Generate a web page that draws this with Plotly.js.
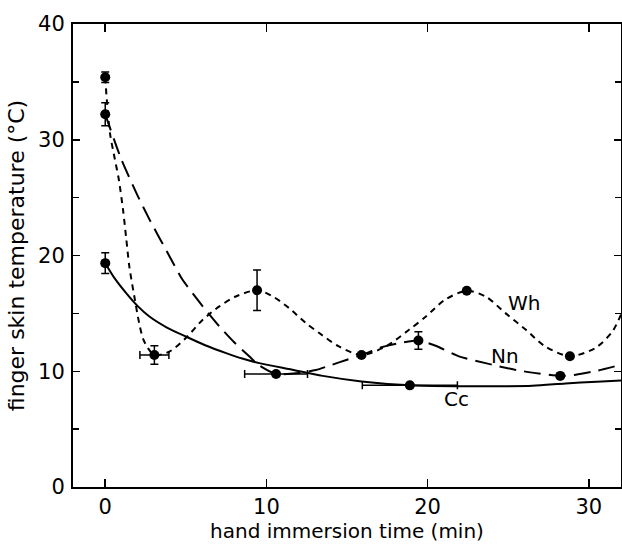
<!DOCTYPE html>
<html>
<head>
<meta charset="utf-8">
<script src="https://cdn.plot.ly/plotly-3.0.1.min.js"></script>
<style>html,body{margin:0;padding:0;background:#fff;}</style>
</head>
<body>
<div id="chart" style="width:622px;height:544px;"></div>
<script>
// ---- measured data points (mean values with error bars) ----
const whX = [0, 3.05, 9.42, 15.9, 22.43, 28.83];
const whY = [35.4, 11.4, 17.0, 11.4, 16.95, 11.3];
const whYerr = [0.45, 0.8, 1.75, 0, 0, 0];
const whXerr = [0, 0.9, 0, 0, 0, 0];

const nnX = [0, 10.6, 19.43, 28.23];
const nnY = [32.2, 9.76, 12.66, 9.6];
const nnYerr = [1.0, 0, 0.76, 0];
const nnXerr = [0, 1.95, 0, 0];

const ccX = [0, 18.9];
const ccY = [19.34, 8.78];
const ccYerr = [0.9, 0];
const ccXerr = [0, 2.95];

// ---- drawn curves ----
const whCurveX = [0, 0.1, 0.3, 0.6, 0.85, 1.1, 1.3, 1.5, 1.8, 2.1, 2.35, 2.65, 3.05, 3.98, 5.0, 6.05, 7.08, 8.1, 9.42, 10.4, 11.4, 12.45, 13.28, 14.5, 15.9, 17.4, 18.85, 19.9, 21.1, 22.43, 23.6, 24.85, 26.1, 27.3, 28.83, 30.4, 31.45, 32];
const whCurveY = [35.4, 33.4, 30.5, 28.3, 26.5, 24.0, 21.5, 19.0, 16.5, 14.2, 12.8, 12.0, 11.4, 11.7, 12.87, 14.45, 15.6, 16.46, 17.0, 16.46, 15.46, 14.16, 13.3, 12.14, 11.4, 12.14, 13.58, 14.73, 16.2, 16.95, 16.46, 15.0, 13.58, 12.14, 11.3, 12.0, 13.4, 14.9];

const nnCurveX = [0, 1.0, 2.0, 2.75, 4.0, 4.8, 6.0, 7.08, 8.0, 9.0, 9.56, 10.6, 12.0, 13.07, 14.1, 15.0, 16.2, 17.2, 18.3, 19.43, 20.5, 21.95, 23.6, 25.5, 26.9, 28.23, 29.2, 30.6, 32];
const nnCurveY = [32.2, 28.3, 25.2, 23.1, 19.9, 17.9, 15.7, 13.87, 12.5, 11.2, 10.5, 9.76, 9.85, 10.1, 10.57, 11.0, 11.57, 12.1, 12.45, 12.66, 12.2, 11.28, 10.7, 10.1, 9.8, 9.6, 9.7, 10.07, 10.56];

const ccCurveX = [0, 0.6, 1.3, 2.0, 2.74, 3.8, 5.0, 6.2, 7.5, 8.5, 9.56, 11.6, 13.5, 15.9, 18.9, 21.85, 24.0, 26.5, 28.56, 30.5, 32];
const ccCurveY = [19.34, 18.0, 16.75, 15.65, 14.73, 13.8, 13.0, 12.25, 11.57, 11.1, 10.7, 10.13, 9.6, 9.12, 8.78, 8.7, 8.7, 8.75, 8.95, 9.1, 9.2];

// ---- series labels ----
const labelText = ['Wh', 'Nn', 'Cc'];
const labelX = [25.96, 24.8, 21.8];
const labelY = [15.9, 11.3, 7.6];

const xTicks = [0, 10, 20, 30];
const yTicks = [0, 10, 20, 30, 40];

const FONT = 'DejaVu Sans, Arial, sans-serif';
const black = '#000';

function curve(x, y, dash, w, sm) {
  return {x: x, y: y, type: 'scatter', mode: 'lines', hoverinfo: 'skip',
    line: {color: black, width: w, dash: dash, shape: 'spline', smoothing: sm},
    showlegend: false, cliponaxis: true};
}
function pts(x, y, ex, ey) {
  return {x: x, y: y, type: 'scatter', mode: 'markers', showlegend: false,
    marker: {color: black, size: 10, symbol: 'circle'},
    error_y: {type: 'data', array: ey, visible: true, color: black, thickness: 1.5, width: 4},
    error_x: {type: 'data', array: ex, visible: true, color: black, thickness: 1.5, width: 4},
    cliponaxis: false};
}

const data = [
  curve(ccCurveX, ccCurveY, 'solid', 2, 0.8),
  curve(nnCurveX, nnCurveY, '17px,8px', 2, 0.6),
  curve(whCurveX, whCurveY, '6px,5px', 2, 0.8),
  pts(whX, whY, whXerr, whYerr),
  pts(nnX, nnY, nnXerr, nnYerr),
  pts(ccX, ccY, ccXerr, ccYerr)
];

const annotations = labelText.map((t, i) => ({
  x: labelX[i], y: labelY[i], xref: 'x', yref: 'y', text: t, showarrow: false,
  font: {family: FONT, size: 20, color: black}
}));

const layout = {
  width: 622, height: 544,
  margin: {l: 73, r: 1, t: 24, b: 57},
  paper_bgcolor: '#fff', plot_bgcolor: '#fff',
  font: {family: FONT, color: black, size: 20},
  xaxis: {
    range: [-2, 32], tickvals: xTicks, ticktext: xTicks.map(String),
    ticks: 'inside', ticklen: 8, tickwidth: 1.5, tickcolor: black,
    showline: true, linewidth: 2, linecolor: black, mirror: 'ticks',
    showgrid: false, zeroline: false,
    tickfont: {family: FONT, size: 21, color: black},
    title: {text: 'hand immersion time (min)', font: {family: FONT, size: 20, color: black}, standoff: 6}
  },
  yaxis: {
    range: [0, 40], tickvals: yTicks, ticktext: yTicks.map(String),
    ticks: 'inside', ticklen: 7, tickwidth: 1.5, tickcolor: black,
    minor: {dtick: 5, tick0: 0, ticks: 'inside', ticklen: 6, tickwidth: 1.5, tickcolor: black, showgrid: false},
    showline: true, linewidth: 2, linecolor: black, mirror: 'ticks',
    showgrid: false, zeroline: false, ticklabelstandoff: 2,
    tickfont: {family: FONT, size: 21, color: black},
    title: {text: 'finger skin temperature (°C)', font: {family: FONT, size: 22, color: black}, standoff: 7}
  },
  annotations: annotations,
  showlegend: false
};

Plotly.newPlot('chart', data, layout, {displayModeBar: false, staticPlot: true});
</script>
</body>
</html>
